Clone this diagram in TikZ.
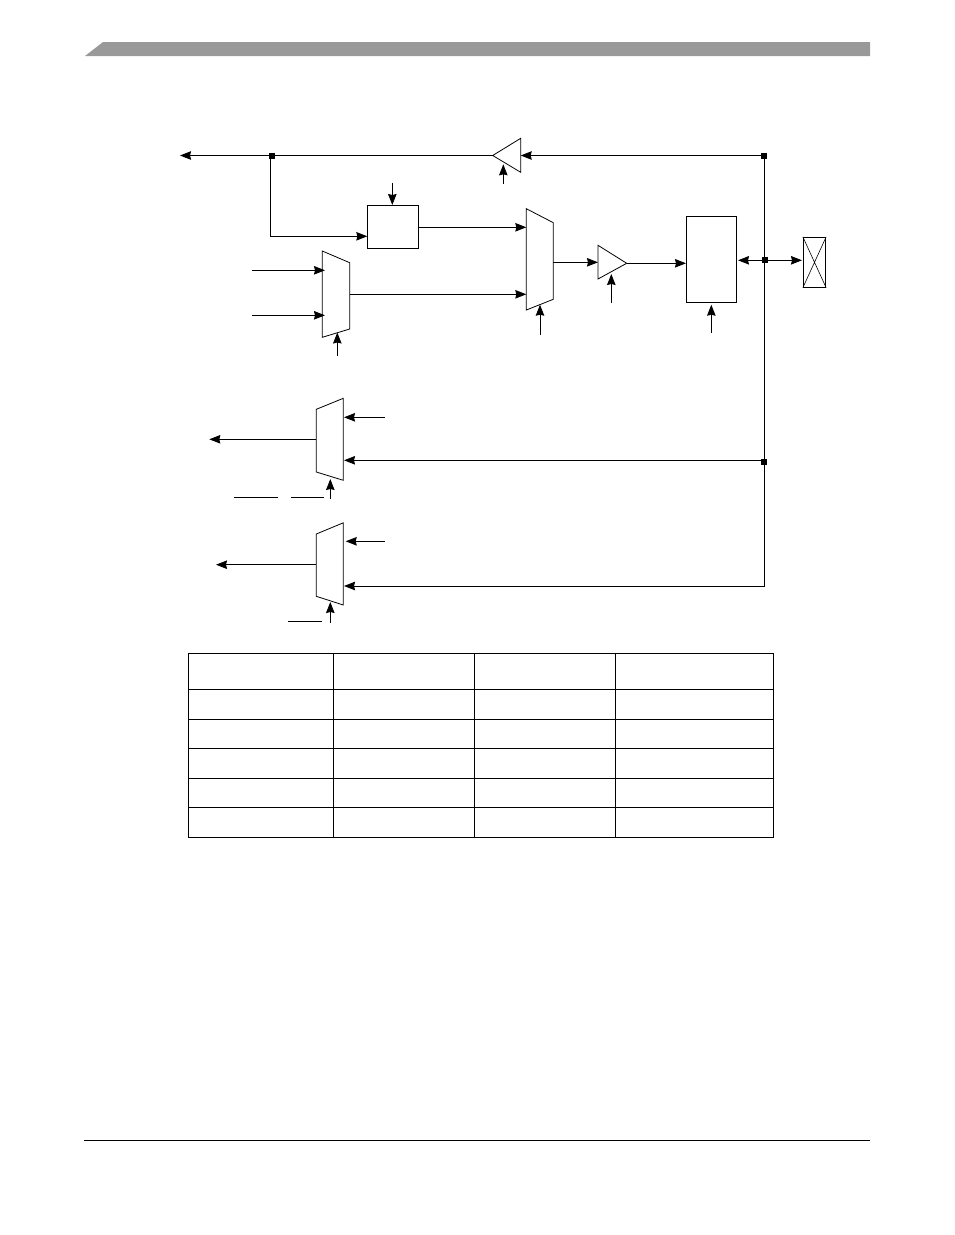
\documentclass[tikz,border=0pt]{standalone}
\usetikzlibrary{arrows.meta}
\tikzset{
  wire/.style={line width=0.9pt,black},
  arr/.style={wire,-{Stealth[length=11pt,width=8.5pt,inset=1pt]}},
  darr/.style={wire,{Stealth[length=11pt,width=8.5pt,inset=1pt]}-{Stealth[length=11pt,width=8.5pt,inset=1pt]}},
  shapeline/.style={line width=0.8pt,black,line join=miter},
  junc/.style={fill=black,draw=none,inner sep=0pt,minimum size=6pt,rectangle},
  boxnode/.style={draw=black,line width=0.9pt,inner sep=0pt,fill=white,rectangle},
  grid/.style={line width=1pt,black}
}
\begin{document}
\begin{tikzpicture}[x=1pt,y=-1pt]
\useasboundingbox (0,0) rectangle (954,1235);
% page furniture
\fill[black!40] (85,56) -- (103,42) -- (870,42) -- (870,56) -- cycle;
\coordinate (fl) at (84,1140.5); \coordinate (fr) at (870,1140.5);
\draw[line width=1pt] (fl) -- (fr);
% junctions
\node[junc] (j1) at (272,156) {};
\node[junc] (j2) at (764,156) {};
\node[junc] (j3) at (764.8,260.3) {};
\node[junc] (j4) at (764,461.8) {};
% boxes
\node[boxnode,minimum width=51.4pt,minimum height=43pt] (box1) at (393,226.8) {};
\node[boxnode,minimum width=50.4pt,minimum height=86pt] (box2) at (711.5,259.3) {};
\node[boxnode,minimum width=22.4pt,minimum height=50pt] (pad) at (814.5,262.3) {};
\draw[line width=0.6pt] (pad.north west) -- (pad.south east) (pad.north east) -- (pad.south west);
% tristate top
\coordinate (t1tip) at (492.7,155.5); \coordinate (t1a) at (520.7,138.3); \coordinate (t1b) at (520.7,172.3);
\draw[shapeline] (t1tip) -- (t1a) -- (t1b) -- cycle;
% tristate middle
\coordinate (t2a) at (598,245.3); \coordinate (t2b) at (598,279); \coordinate (t2tip) at (626.7,263.3);
\draw[shapeline] (t2a) -- (t2tip) -- (t2b) -- cycle;
% mux 1
\draw[shapeline] (322.3,251) coordinate (m1a) -- (349.7,262.7) -- (349.7,329) coordinate (m1c) -- (322.3,337.3) coordinate (m1d) -- cycle;
% mux 2
\draw[shapeline] (526.3,208.7) coordinate (m2a) -- (553.3,222.7) -- (553.3,299.3) -- (526.3,310) coordinate (m2d) -- cycle;
% mux 3
\draw[shapeline] (316.3,409.3) -- (343.3,398.3) -- (343.3,480.3) -- (316.3,472) -- cycle;
% mux 4
\draw[shapeline] (316.3,534) -- (343.3,522.8) -- (343.3,605) -- (316.3,596.3) -- cycle;
% free ends
\coordinate (outL) at (180,155.5);
\coordinate (c0) at (270.3,155.5);
\coordinate (c1) at (270.3,236.3);
\coordinate (b1in) at (367.3,236.3);
\coordinate (b1top) at (392.3,183);
\coordinate (b1topin) at (392.3,205);
\coordinate (ctl1) at (503.3,183.7); \coordinate (ctl1t) at (503.3,164.3);
\coordinate (t1r) at (520.7,155.5);
\coordinate (a1) at (252,270.3); \coordinate (a1t) at (325,270.3);
\coordinate (a2) at (252,315.3); \coordinate (a2t) at (325,315.3);
\coordinate (m1out) at (349.7,294.3); \coordinate (m2in2) at (526.3,294.3);
\coordinate (b1out) at (418.7,227.3); \coordinate (m2in1) at (526.3,227.3);
\coordinate (m1c1) at (337.3,355.7); \coordinate (m1c2) at (337.3,332.5);
\coordinate (m2c1) at (540,334.7); \coordinate (m2c2) at (540,304.7);
\coordinate (m2o) at (553.3,262.3); \coordinate (t2in) at (598,262.3);
\coordinate (t2c1) at (611.3,302.7); \coordinate (t2c2) at (611.3,274);
\coordinate (t2o) at (626.7,263.3); \coordinate (b2in) at (686,263.3);
\coordinate (b2c1) at (711.3,332.7); \coordinate (b2c2) at (711.3,304.7);
\coordinate (da) at (738,260.3); \coordinate (db) at (802,260.3);
\coordinate (vtop) at (764.5,155.5); \coordinate (vbot) at (764.5,586);
% mux3
\coordinate (m3o) at (316.3,439.3); \coordinate (m3ot) at (209.3,439.3);
\coordinate (m3i1) at (385,417.3); \coordinate (m3i1t) at (344,417.3);
\coordinate (m3i2) at (764.5,460.3); \coordinate (m3i2t) at (344,460.3);
\coordinate (m3c1) at (330.3,498.7); \coordinate (m3c2) at (330.3,479);
% mux4
\coordinate (m4o) at (316.3,564.7); \coordinate (m4ot) at (216,564.7);
\coordinate (m4i1) at (385,541.3); \coordinate (m4i1t) at (345.7,541.3);
\coordinate (m4i2) at (764.5,586); \coordinate (m4i2t) at (344,586);
\coordinate (m4c1) at (330.3,622.7); \coordinate (m4c2) at (330.3,602);
% connectors
\draw[arr] (t1tip) -- (outL);
\draw[wire] (c0) -- (c1);
\draw[arr] (c1) -- (b1in);
\draw[arr] (b1top) -- (b1topin);
\draw[arr] (ctl1) -- (ctl1t);
\draw[arr] (vtop) -- (t1r);
\draw[wire] (vtop) -- (vbot);
\draw[arr] (a1) -- (a1t);
\draw[arr] (a2) -- (a2t);
\draw[arr] (m1out) -- (m2in2);
\draw[arr] (b1out) -- (m2in1);
\draw[arr] (m1c1) -- (m1c2);
\draw[arr] (m2c1) -- (m2c2);
\draw[arr] (m2o) -- (t2in);
\draw[arr] (t2c1) -- (t2c2);
\draw[arr] (t2o) -- (b2in);
\draw[arr] (b2c1) -- (b2c2);
\draw[darr] (da) -- (db);
\draw[arr] (m3o) -- (m3ot);
\draw[arr] (m3i1) -- (m3i1t);
\draw[arr] (m3i2) -- (m3i2t);
\draw[arr] (m3c1) -- (m3c2);
\draw[arr] (m4o) -- (m4ot);
\draw[arr] (m4i1) -- (m4i1t);
\draw[arr] (m4i2) -- (m4i2t);
\draw[arr] (m4c1) -- (m4c2);
% overbars
\draw[wire] (234,497.3) coordinate (o1) -- (278,497.3) coordinate (o2);
\draw[wire] (291,497.3) coordinate (o3) -- (323.7,497.3) coordinate (o4);
\draw[wire] (288,621.3) coordinate (o5) -- (322,621.3) coordinate (o6);
% table
\foreach \yy in {653.5,689,719.3,748.3,778.3,807.3,837.3} \draw[grid] (188.3,\yy) -- (773.5,\yy);
\foreach \xx in {188.3,333.3,474.7,615.3,773.3} \draw[grid] (\xx,653.5) -- (\xx,837.3);
\end{tikzpicture}
\end{document}
